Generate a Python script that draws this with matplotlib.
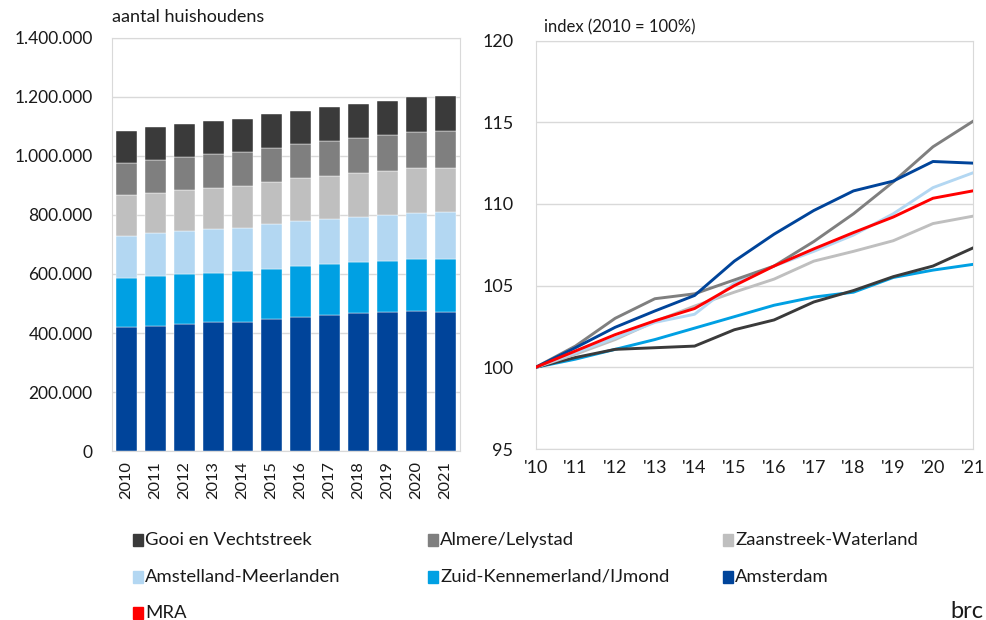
import numpy as np
import matplotlib
matplotlib.use("Agg")
import matplotlib.pyplot as plt
from matplotlib.patches import Rectangle
from matplotlib.ticker import FuncFormatter

plt.rcParams['font.family'] = ['Lato', 'DejaVu Sans']

# ---------------------------------------------------------------
# data
# ---------------------------------------------------------------
years = [2010, 2011, 2012, 2013, 2014, 2015, 2016, 2017, 2018, 2019, 2020, 2021]
year_labels = ["'10", "'11", "'12", "'13", "'14", "'15", "'16", "'17", "'18", "'19", "'20", "'21"]

regions = ["Amsterdam", "Zuid-Kennemerland/IJmond", "Amstelland-Meerlanden",
           "Zaanstreek-Waterland", "Almere/Lelystad", "Gooi en Vechtstreek"]

# households (x 1000), stacked from bottom to top
hh_amsterdam = [421, 425, 432, 436, 439, 449, 455, 461, 467, 470, 474, 472]
hh_zuidkenn = [165, 168, 167, 167, 170, 169, 172, 173, 173, 174, 176, 178]
hh_amstelland = [144, 145, 147, 149, 148, 151, 152, 152, 154, 156, 157, 159]
hh_zaanstreek = [136, 137, 138, 140, 142, 143, 145, 147, 148, 149, 151, 151]
hh_almere = [110, 111, 112, 114, 114, 115, 116, 117, 118, 121, 124, 125]
hh_gooi = [109, 110, 112, 111, 111, 113, 113, 114, 115, 115, 116, 117]

# index 2010 = 100
idx_gooi = [100, 100.6, 101.1, 101.2, 101.3, 102.3, 102.9, 104.0, 104.7, 105.55, 106.2, 107.3]
idx_almere = [100, 101.3, 103.0, 104.2, 104.5, 105.35, 106.2, 107.7, 109.4, 111.35, 113.5, 115.05]
idx_zaanstreek = [100, 100.8, 101.7, 102.8, 103.75, 104.6, 105.4, 106.5, 107.1, 107.75, 108.8, 109.25]
idx_amstelland = [100, 100.9, 101.8, 102.75, 103.25, 105.15, 106.2, 107.1, 108.1, 109.4, 111.0, 111.9]
idx_zuidkenn = [100, 100.5, 101.1, 101.7, 102.4, 103.1, 103.8, 104.3, 104.6, 105.5, 105.95, 106.3]
idx_amsterdam = [100, 101.2, 102.45, 103.45, 104.4, 106.5, 108.15, 109.6, 110.8, 111.4, 112.6, 112.5]
idx_mra = [100, 101.0, 102.0, 102.85, 103.6, 105.0, 106.2, 107.25, 108.25, 109.2, 110.35, 110.8]

colors = {
    "Gooi en Vechtstreek": "#3a3a3a",
    "Almere/Lelystad": "#7f7f7f",
    "Zaanstreek-Waterland": "#bfbfbf",
    "Amstelland-Meerlanden": "#b3d7f2",
    "Zuid-Kennemerland/IJmond": "#00a0e3",
    "Amsterdam": "#00449a",
    "MRA": "#ff0000",
}

grid_col = "#d9d9d9"
txt_col = "#1a1a1a"

fig = plt.figure(figsize=(9.86, 6.2), dpi=100)

# ---------------------------------------------------------------
# left: stacked bars
# ---------------------------------------------------------------
ax1 = fig.add_axes([0.1136, 0.2721, 0.3529, 0.6673])
stack = [hh_amsterdam, hh_zuidkenn, hh_amstelland, hh_zaanstreek, hh_almere, hh_gooi]
x = np.arange(len(years))
bottom = np.zeros(len(years))
for name, vals in zip(regions, stack):
    v = np.array(vals) * 1000
    ax1.bar(x, v, bottom=bottom, width=0.75, color=colors[name],
            edgecolor="white", linewidth=0.3, zorder=3)
    bottom += v

ax1.set_xlim(-0.5, len(years) - 0.5)
ax1.set_ylim(0, 1400000)
ax1.set_yticks(np.arange(0, 1400001, 200000))
ax1.yaxis.set_major_formatter(FuncFormatter(lambda v, p: f"{int(v):,}".replace(",", ".")))
ax1.set_xticks(x)
ax1.set_xticklabels([str(y) for y in years], rotation=90)
ax1.grid(axis="y", color=grid_col, linewidth=1, zorder=0)
ax1.tick_params(length=0, labelsize=12.5, colors=txt_col)
ax1.tick_params(axis="x", labelsize=11.8, pad=7)
ax1.tick_params(axis="y", pad=14)
for s in ax1.spines.values():
    s.set_color(grid_col)
ax1.text(0.0, 1.03, "aantal huishoudens", transform=ax1.transAxes,
         fontsize=13, color=txt_col, ha="left", va="bottom")

# ---------------------------------------------------------------
# right: index lines
# ---------------------------------------------------------------
ax2 = fig.add_axes([0.5433, 0.2758, 0.4432, 0.6587])
lines = [
    ("Zuid-Kennemerland/IJmond", idx_zuidkenn),
    ("Gooi en Vechtstreek", idx_gooi),
    ("Zaanstreek-Waterland", idx_zaanstreek),
    ("Amstelland-Meerlanden", idx_amstelland),
    ("Almere/Lelystad", idx_almere),
    ("Amsterdam", idx_amsterdam),
    ("MRA", idx_mra),
]
for name, vals in lines:
    ax2.plot(x, vals, color=colors[name], linewidth=2.1, zorder=3)

ax2.set_xlim(0, len(years) - 1)
ax2.set_ylim(95, 120)
ax2.set_yticks(np.arange(95, 121, 5))
ax2.set_xticks(x)
ax2.set_xticklabels(year_labels)
ax2.grid(axis="y", color=grid_col, linewidth=1, zorder=0)
ax2.tick_params(length=0, labelsize=13, colors=txt_col)
ax2.tick_params(axis="y", pad=16)
ax2.tick_params(axis="x", pad=8)
for s in ax2.spines.values():
    s.set_color(grid_col)
ax2.text(0.018, 1.012, "index (2010 = 100%)", transform=ax2.transAxes,
         fontsize=12, color=txt_col, ha="left", va="bottom")

# ---------------------------------------------------------------
# legend (three columns, filled row by row)
# ---------------------------------------------------------------
legend_order = ["Gooi en Vechtstreek", "Almere/Lelystad", "Zaanstreek-Waterland",
                "Amstelland-Meerlanden", "Zuid-Kennemerland/IJmond", "Amsterdam", "MRA"]
col_x = [133, 428, 723]
row_y = [540, 577, 613]
for i, name in enumerate(legend_order):
    cx = col_x[i % 3]
    cy = row_y[i // 3]
    fig.add_artist(Rectangle((cx / 986, 1 - (cy + 6) / 620), 10 / 986, 12 / 620,
                             transform=fig.transFigure, color=colors[name]))
    fig.text((cx + 12) / 986, 1 - cy / 620, name, fontsize=13.3, color=txt_col,
             ha="left", va="center")

fig.text(950 / 986, 1 - 611 / 620, "brc", fontsize=17, color=txt_col,
         ha="left", va="center")

fig.savefig("out.png", dpi=100)
